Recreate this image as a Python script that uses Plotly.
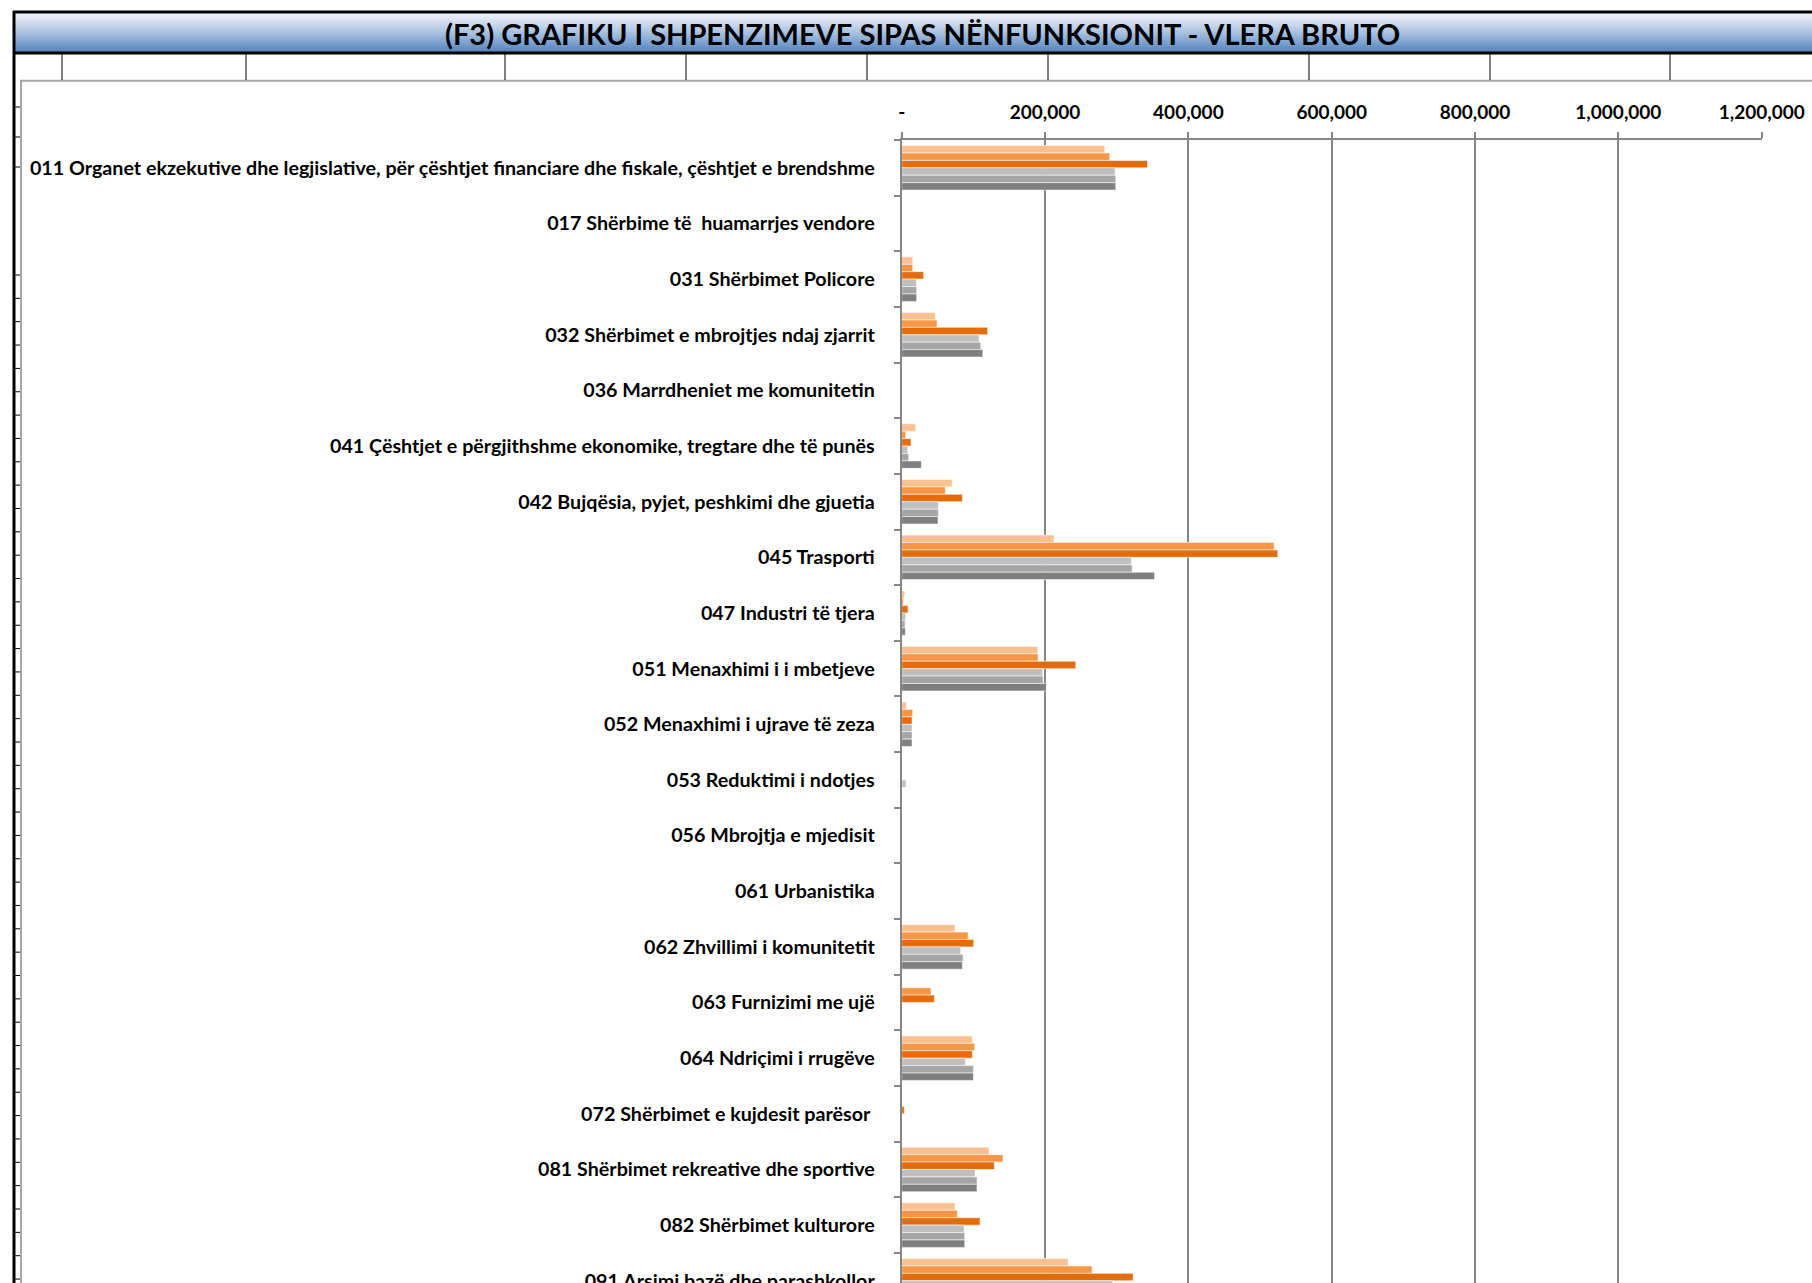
import plotly.graph_objects as go

W, H = 1812, 1283

categories = [
    "011 Organet ekzekutive dhe legjislative, për çështjet financiare dhe fiskale, çështjet e brendshme",
    "017 Shërbime të\u00a0 huamarrjes vendore",
    "031 Shërbimet Policore",
    "032 Shërbimet e mbrojtjes ndaj zjarrit",
    "036 Marrdheniet me komunitetin",
    "041 Çështjet e përgjithshme ekonomike, tregtare dhe të punës",
    "042 Bujqësia, pyjet, peshkimi dhe gjuetia",
    "045 Trasporti",
    "047 Industri të tjera",
    "051 Menaxhimi i i mbetjeve",
    "052 Menaxhimi i ujrave të zeza",
    "053 Reduktimi i ndotjes",
    "056 Mbrojtja e mjedisit",
    "061 Urbanistika",
    "062 Zhvillimi i komunitetit",
    "063 Furnizimi me ujë",
    "064 Ndriçimi i rrugëve",
    "072 Shërbimet e kujdesit parësor\u00a0",
    "081 Shërbimet rekreative dhe sportive",
    "082 Shërbimet kulturore",
    "091 Arsimi bazë dhe parashkollor",
]

series_names = ["Seria 1", "Seria 2", "Seria 3", "Seria 4", "Seria 5", "Seria 6"]

s1 = [283300, 0, 15350, 47000, 0, 19500, 70300, 212600, 4200, 189800, 6500, 0, 0, 0, 74400, 0, 98600, 0, 121900, 74400, 232100]
s2 = [290300, 0, 15350, 49300, 0, 5600, 60900, 519700, 2300, 190300, 15350, 0, 0, 0, 92600, 40900, 101900, 0, 141400, 77700, 265600]
s3 = [342900, 0, 30700, 120000, 0, 13000, 84700, 524800, 8800, 242900, 14400, 0, 0, 0, 100500, 45600, 98600, 3700, 129300, 109300, 322900]
s4 = [297700, 0, 20500, 107900, 0, 8400, 51200, 320500, 5600, 196800, 14400, 6000, 0, 0, 82300, 0, 88900, 0, 102400, 87000, 294500]
s5 = [298700, 0, 20900, 110300, 0, 9800, 51200, 321500, 4700, 197300, 14400, 0, 0, 0, 85600, 0, 100000, 0, 105100, 87900, 298000]
s6 = [298700, 0, 20900, 113100, 0, 27400, 50700, 352700, 5100, 201900, 14400, 0, 0, 0, 84700, 0, 100000, 0, 105100, 87900, 300000]

x_tickvals = [0, 200000, 400000, 600000, 800000, 1000000, 1200000]
x_ticktext = ["-", "200,000", "400,000", "600,000", "800,000", "1,000,000", "1,200,000"]

colors = ["#FAC090", "#F79646", "#E46C0A", "#BFBFBF", "#A5A5A5", "#7F7F7F"]
all_series = [s1, s2, s3, s4, s5, s6]


def px(x):
    return x / W


def py(y):
    return 1 - y / H


fig = go.Figure()
for name, vals, col in zip(series_names, all_series, colors):
    fig.add_trace(go.Bar(
        y=categories, x=vals, name=name, orientation="h",
        marker=dict(color=col, line=dict(color="rgba(255,255,255,0.9)", width=0.6)),
    ))

shapes = []
# chart area (white, grey border)
shapes.append(dict(type="rect", xref="paper", yref="paper", layer="below",
                   x0=px(21), x1=px(W + 20), y0=py(H + 20), y1=py(80.7),
                   fillcolor="white", line=dict(color="#A6A6A6", width=2)))
# title bar gradient
top, bot = 12.0, 53.0
steps = 41
c0 = (238, 242, 250)
c1 = (79, 129, 189)
for i in range(steps):
    t = (i / (steps - 1)) ** 1.2
    c = tuple(int(round(c0[k] + (c1[k] - c0[k]) * t)) for k in range(3))
    ya = top + (bot - top) * i / steps
    yb = top + (bot - top) * (i + 1) / steps + 0.3
    shapes.append(dict(type="rect", xref="paper", yref="paper", layer="below",
                       x0=px(14), x1=px(W + 5), y0=py(yb), y1=py(ya),
                       fillcolor="rgb(%d,%d,%d)" % c, line=dict(width=0)))
# title bar borders
for yy in (12, 53):
    shapes.append(dict(type="line", xref="paper", yref="paper", layer="above",
                       x0=px(13), x1=px(W + 5), y0=py(yy), y1=py(yy),
                       line=dict(color="black", width=3)))
# left sheet border
shapes.append(dict(type="line", xref="paper", yref="paper", layer="above",
                   x0=px(14), x1=px(14), y0=py(11), y1=py(H + 5),
                   line=dict(color="black", width=3)))
# cell borders in row under title
for xx in [62, 246, 505, 686, 867, 1048, 1309, 1490, 1670]:
    shapes.append(dict(type="line", xref="paper", yref="paper", layer="above",
                       x0=px(xx), x1=px(xx), y0=py(80), y1=py(54),
                       line=dict(color="black", width=1)))
# row borders at left margin
row_ys = [107, 137, 167, 275]
yy = 275
while yy < H:
    yy += 23.35
    row_ys.append(yy)
for yy in row_ys:
    shapes.append(dict(type="line", xref="paper", yref="paper", layer="above",
                       x0=px(14), x1=px(20), y0=py(yy), y1=py(yy),
                       line=dict(color="black", width=1)))

fig.update_layout(
    width=W, height=H,
    margin=dict(l=0, r=0, t=0, b=0),
    paper_bgcolor="white", plot_bgcolor="white",
    showlegend=False,
    barmode="group", bargap=0.2, bargroupgap=0,
    shapes=shapes,
    font=dict(family="Lato", color="black"),
    annotations=[dict(
        text="(F3) GRAFIKU I SHPENZIMEVE SIPAS NËNFUNKSIONIT - VLERA BRUTO",
        xref="paper", yref="paper", x=px(922), y=py(33),
        xanchor="center", yanchor="middle", showarrow=False,
        font=dict(family="Lato", size=29, weight="bold", color="black"),
    )],
    xaxis=dict(
        domain=[px(901.7), px(1761.7)], side="top", range=[0, 1200000],
        tickvals=x_tickvals, ticktext=x_ticktext,
        ticks="outside", ticklen=6, tickwidth=2, tickcolor="#868686",
        showgrid=True, gridcolor="#868686", gridwidth=2,
        showline=True, linecolor="#868686", linewidth=2,
        zeroline=False, automargin=False, ticklabelstandoff=5,
        tickfont=dict(family="Lato", size=19, weight="bold", color="black"),
    ),
    yaxis=dict(
        domain=[0, py(140)], type="category",
        categoryorder="array", categoryarray=categories,
        range=[20.04, -0.5],
        ticks="outside", ticklen=6, tickwidth=2, tickcolor="#868686",
        tickson="boundaries",
        showgrid=False, showline=True, linecolor="#868686", linewidth=2,
        zeroline=False, automargin=False, ticklabelstandoff=21,
        tickfont=dict(family="Lato", size=19.7, weight="bold", color="black"),
    ),
)

fig.write_html(
    "out.html",
    config={"displayModeBar": False},
    post_script="document.body.style.margin='0';document.body.style.overflow='hidden';",
)
